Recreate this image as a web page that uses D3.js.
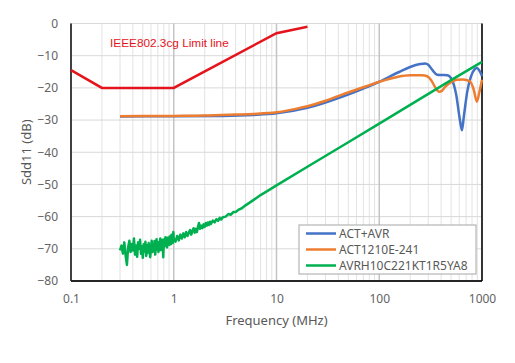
<!DOCTYPE html>
<html>
<head>
<meta charset="utf-8">
<script src="https://cdn.jsdelivr.net/npm/d3@7"></script>
<style>
  body { margin: 0; background: #fff; }
  text { font-family: "Noto Sans", sans-serif; }
</style>
</head>
<body>
<svg id="chart" width="515" height="363"></svg>
<script>
// tick values
var xTicks = [0.1, 1, 10, 100, 1000];
var yTicks = [0, -10, -20, -30, -40, -50, -60, -70, -80];

// IEEE802.3cg limit line [MHz, dB]
var limitLine = [[0.1, -14.5], [0.2, -20], [1, -20], [10, -3], [20, -1]];

// ACT+AVR
var actAvr = [
  [0.3, -28.9], [1, -28.8], [3, -28.7], [6, -28.4], [10, -27.9], [20, -26.2],
  [44, -22.7], [70, -20.2], [100, -18.1], [150, -15.3], [200, -13.5], [250, -12.6],
  [279, -12.4], [300, -12.8], [330, -14.5], [365, -15.9], [410, -16.0], [460, -16.1],
  [510, -17.5], [560, -22], [610, -30], [638, -33.2], [665, -29], [720, -21],
  [780, -16.5], [850, -14.2], [893, -13.8], [950, -14.8], [1000, -16.3]
];

// ACT1210E-241
var act1210 = [
  [0.3, -28.8], [1, -28.7], [2, -28.6], [4, -28.3], [6, -28.1], [10, -27.6],
  [15, -26.6], [20, -25.7], [30, -24.0], [44, -22.0], [70, -19.8], [100, -18.1],
  [150, -16.6], [200, -16.1], [260, -16.1], [293, -16.4], [320, -17.6], [350, -19.8],
  [382, -21.2], [410, -20.8], [440, -19.6], [500, -18.2], [570, -17.5], [650, -17.4],
  [764, -18.0], [830, -20.5], [893, -24.3], [940, -21.5], [1000, -17.5]
];

// AVRH10C221KT1R5YA8 (noisy at low frequency)
var avrh = [
  [0.30, -70.5], [0.31, -69.0], [0.32, -71.5], [0.33, -68.0], [0.34, -72.0], [0.35, -75.0],
  [0.36, -69.5], [0.37, -67.5], [0.38, -71.0], [0.39, -68.5], [0.40, -70.5], [0.41, -66.8],
  [0.42, -71.8], [0.43, -69.0], [0.44, -72.5], [0.45, -68.0], [0.46, -70.0], [0.47, -67.2],
  [0.48, -71.5], [0.49, -69.3], [0.50, -72.8], [0.51, -68.6], [0.52, -70.8], [0.53, -67.8],
  [0.54, -72.2], [0.55, -69.0], [0.56, -71.2], [0.57, -68.2], [0.58, -70.4], [0.59, -72.6],
  [0.60, -69.8], [0.61, -67.5], [0.62, -71.0], [0.63, -68.8], [0.64, -70.6], [0.65, -67.6],
  [0.66, -71.8], [0.67, -69.2], [0.68, -67.0], [0.69, -70.2], [0.70, -68.4], [0.71, -71.0],
  [0.72, -67.8], [0.73, -69.6], [0.74, -66.8], [0.75, -70.4], [0.76, -68.2], [0.77, -69.8],
  [0.78, -67.2], [0.79, -72.6], [0.80, -68.5], [0.81, -67.0], [0.82, -69.2], [0.83, -66.4],
  [0.84, -68.8], [0.85, -67.4], [0.86, -69.6], [0.87, -66.6], [0.88, -68.4], [0.89, -67.0],
  [0.90, -68.8], [0.91, -66.2], [0.92, -67.8], [0.93, -66.8], [0.94, -68.6], [0.95, -65.6],
  [0.96, -67.6], [0.97, -66.4], [0.98, -68.2], [0.99, -64.8], [1.00, -66.8], [1.04, -67.8],
  [1.08, -66.0], [1.12, -67.4], [1.16, -65.6], [1.20, -66.8], [1.24, -65.2], [1.28, -66.4],
  [1.32, -64.8], [1.36, -66.0], [1.40, -65.0], [1.44, -64.2], [1.48, -65.6], [1.52, -64.4],
  [1.56, -63.6], [1.60, -65.0], [1.64, -63.8], [1.68, -64.8], [1.72, -63.2], [1.76, -62.0],
  [1.80, -63.8], [1.85, -62.8], [1.90, -63.6], [1.95, -62.4], [2.00, -63.2], [2.05, -62.0],
  [2.10, -62.8], [2.15, -61.8], [2.20, -62.6], [2.25, -61.6], [2.30, -62.3], [2.40, -61.2],
  [2.50, -61.8], [2.60, -60.8], [2.70, -61.3], [2.80, -60.4], [2.90, -60.9], [3.00, -60.2],
  [3.20, -60.0], [3.40, -59.2], [3.60, -59.4], [3.80, -58.6], [4.00, -58.6], [4.30, -57.8],
  [4.60, -57.4], [5.00, -56.5], [6.00, -54.8], [7.00, -53.3], [8.50, -51.7], [10, -50.3],
  [20, -44.5], [50, -36.9], [100, -31.1], [200, -25.3], [500, -17.6], [1000, -11.9]
];

var seriesNames = ["ACT+AVR", "ACT1210E-241", "AVRH10C221KT1R5YA8"];
var seriesColors = ["#4472c4", "#ed7d31", "#00b050"];

var svg = d3.select("#chart");
var margin = {top: 23.5, right: 33, bottom: 82, left: 71};
var w = 515 - margin.left - margin.right;
var h = 363 - margin.top - margin.bottom;

var x = d3.scaleLog().domain([0.1, 1000]).range([0, w]);
var y = d3.scaleLinear().domain([-80, 0]).range([h, 0]);

var g = svg.append("g")
    .attr("transform", "translate(" + margin.left + "," + margin.top + ")");

// minor vertical grid
var minor = [];
[0.1, 1, 10, 100].forEach(function(d) {
    for (var k = 2; k < 10; k++) minor.push(d * k);
});
g.selectAll(".minor")
    .data(minor)
    .enter().append("line")
    .attr("x1", function(d) { return x(d); })
    .attr("x2", function(d) { return x(d); })
    .attr("y1", 0).attr("y2", h)
    .attr("stroke", "#e3e3e3")
    .attr("stroke-width", 1);

// horizontal grid
g.selectAll(".hgrid")
    .data(yTicks)
    .enter().append("line")
    .attr("x1", 0).attr("x2", w)
    .attr("y1", function(d) { return y(d); })
    .attr("y2", function(d) { return y(d); })
    .attr("stroke", "#d9d9d9")
    .attr("stroke-width", 1);

// major vertical grid
g.selectAll(".major")
    .data(xTicks)
    .enter().append("line")
    .attr("x1", function(d) { return x(d); })
    .attr("x2", function(d) { return x(d); })
    .attr("y1", 0).attr("y2", h)
    .attr("stroke", "#c4c4c4")
    .attr("stroke-width", 1.5);

// frame
g.append("line").attr("x1", 0).attr("x2", 0).attr("y1", 0).attr("y2", h)
    .attr("stroke", "#404040").attr("stroke-width", 2);
g.append("line").attr("x1", 0).attr("x2", w).attr("y1", h).attr("y2", h)
    .attr("stroke", "#262626").attr("stroke-width", 2);
g.append("line").attr("x1", w).attr("x2", w).attr("y1", 0).attr("y2", h)
    .attr("stroke", "#000").attr("stroke-width", 1.5);

// axes labels
var xAxis = d3.axisBottom(x).tickValues(xTicks).tickSize(0).tickPadding(13)
    .tickFormat(function(d) { return String(d); });
var xg = g.append("g").attr("transform", "translate(0," + h + ")").call(xAxis);
xg.select(".domain").remove();
xg.selectAll("text").attr("fill", "#636363").style("font-size", "12px");

var yAxis = d3.axisLeft(y).tickValues(yTicks).tickSize(0).tickPadding(13);
var yg = g.append("g").call(yAxis);
yg.select(".domain").remove();
yg.selectAll("text").attr("fill", "#636363").style("font-size", "12px");

svg.append("text")
    .attr("x", margin.left + w / 2)
    .attr("y", 325)
    .attr("text-anchor", "middle")
    .attr("fill", "#595959")
    .style("font-size", "13px")
    .text("Frequency (MHz)");

svg.append("text")
    .attr("transform", "translate(31," + (margin.top + h / 2) + ") rotate(-90)")
    .attr("text-anchor", "middle")
    .attr("fill", "#595959")
    .style("font-size", "13px")
    .text("Sdd11 (dB)");

// lines
var smooth = d3.line()
    .x(function(d) { return x(d[0]); })
    .y(function(d) { return y(d[1]); })
    .curve(d3.curveMonotoneX);
var straight = d3.line()
    .x(function(d) { return x(d[0]); })
    .y(function(d) { return y(d[1]); });

g.append("path").attr("d", straight(limitLine))
    .attr("fill", "none").attr("stroke", "#e5141c").attr("stroke-width", 2.5);

g.append("path").attr("d", smooth(actAvr))
    .attr("fill", "none").attr("stroke", seriesColors[0]).attr("stroke-width", 2.5);
g.append("path").attr("d", smooth(act1210))
    .attr("fill", "none").attr("stroke", seriesColors[1]).attr("stroke-width", 2.5);
g.append("path").attr("d", straight(avrh))
    .attr("fill", "none").attr("stroke", seriesColors[2]).attr("stroke-width", 2.5)
    .attr("stroke-linejoin", "round");

g.append("text")
    .attr("x", 110 - margin.left)
    .attr("y", 47 - margin.top)
    .attr("fill", "#e5141c")
    .style("font-family", "'Liberation Sans', Arial, sans-serif")
    .style("font-size", "11.8px")
    .text("IEEE802.3cg Limit line");

// legend
var legend = svg.append("g").attr("transform", "translate(299,225)");
legend.append("rect")
    .attr("width", 177).attr("height", 49)
    .attr("fill", "#fff")
    .attr("stroke", "#a6a6a6").attr("stroke-width", 1);
var item = legend.selectAll(".item")
    .data(seriesNames)
    .enter().append("g")
    .attr("transform", function(d, i) { return "translate(0," + (8.5 + i * 16) + ")"; });
item.append("line")
    .attr("x1", 7).attr("x2", 37)
    .attr("stroke", function(d, i) { return seriesColors[i]; })
    .attr("stroke-width", 2.5);
item.append("text")
    .attr("x", 40).attr("dy", "0.35em")
    .attr("fill", "#595959")
    .style("font-size", "12px")
    .text(function(d) { return d; });
</script>
</body>
</html>
